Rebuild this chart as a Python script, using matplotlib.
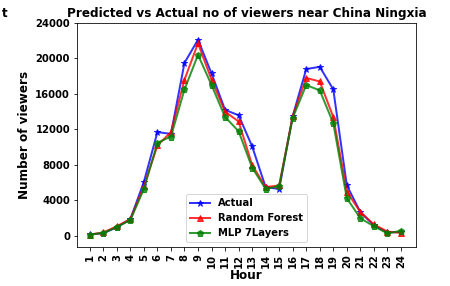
import matplotlib
matplotlib.use("Agg")
import matplotlib.pyplot as plt

# ── Data ──────────────────────────────────────────────────────────────────────
hours = list(range(1, 25))
actual = [200, 300, 1000, 1900, 6100, 11700, 11500, 19500, 22100, 18300, 14200, 13600,
          10100, 5500, 5300, 13500, 18800, 19050, 16500, 5700, 2700, 1200, 400, 450]
random_forest = [150, 400, 1100, 1900, 5600, 10200, 11700, 17600, 21700, 17600, 14000, 12900,
                 8000, 5500, 5700, 13500, 17800, 17400, 13400, 5000, 2700, 1300, 500, 350]
mlp = [150, 350, 1000, 1800, 5300, 10500, 11200, 16500, 20400, 17000, 13400, 11800,
       7700, 5300, 5600, 13300, 17000, 16400, 12700, 4250, 2000, 1100, 300, 580]

# ── Plot ──────────────────────────────────────────────────────────────────────
fig = plt.figure(figsize=(450 / 72, 286 / 72), dpi=72)
ax = fig.add_axes([0.171, 0.136, 0.753, 0.784])

ax.plot(hours, actual, color="blue", marker="*", markersize=7, lw=2, alpha=0.8, label="Actual")
ax.plot(hours, random_forest, color="red", marker="^", markersize=6, lw=2, alpha=0.8, label="Random Forest")
ax.plot(hours, mlp, color="green", marker="p", markersize=7, lw=2, alpha=0.8, label="MLP 7Layers")

ax.set_xlim(0.05, 25.1)
ax.set_ylim(-1250, 24000)
ax.set_xticks(hours)
ax.set_xticklabels([str(h) for h in hours], rotation=90, fontsize=10, fontweight="bold")
ax.set_yticks(range(0, 24001, 4000))
ax.set_yticklabels([str(v) for v in range(0, 24001, 4000)], fontsize=10, fontweight="bold")

ax.set_title("Predicted vs Actual no of viewers near China Ningxia", fontsize=12, fontweight="bold")
ax.set_xlabel("Hour", fontsize=12, fontweight="bold", labelpad=1)
ax.set_ylabel("Number of viewers", fontsize=12, fontweight="bold")

leg = ax.legend(loc="lower center", prop={"size": 10, "weight": "bold"})

fig.text(0.004, 0.94, "t", fontsize=12, fontweight="bold")

fig.savefig("out.png", dpi=72)
